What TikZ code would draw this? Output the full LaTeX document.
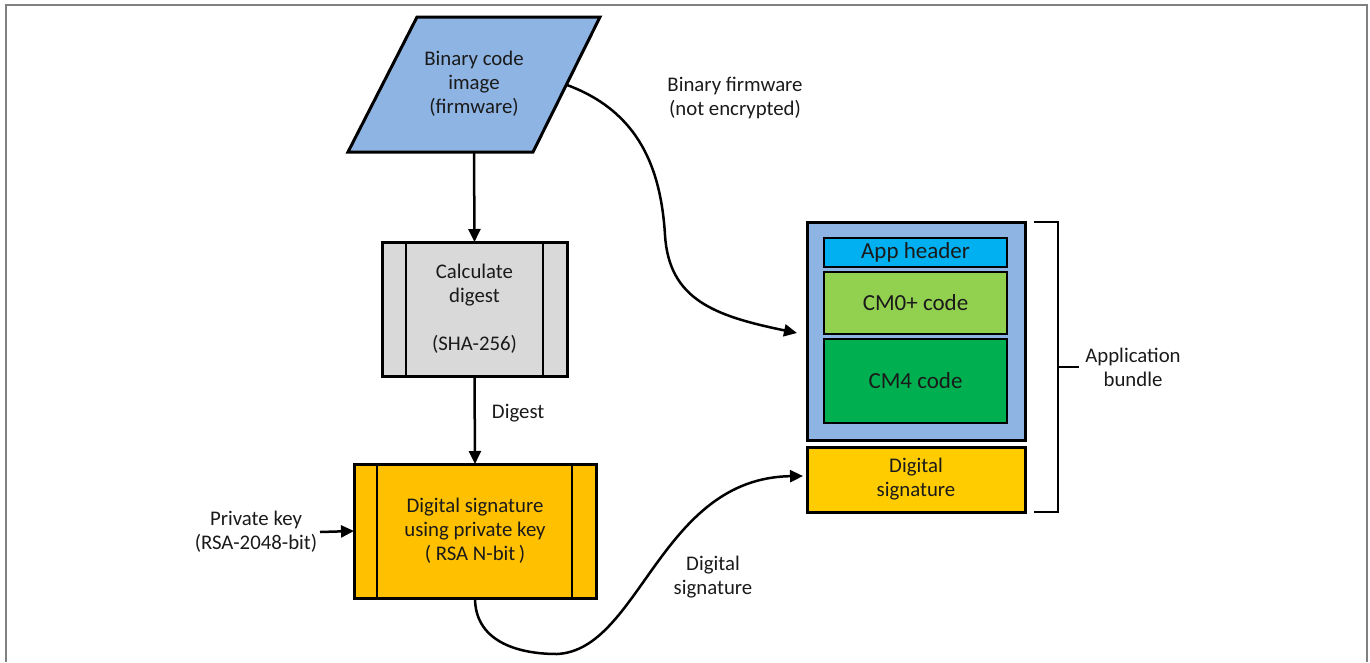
\documentclass[tikz,border=0pt]{standalone}
\usepackage{fontspec}
\setmainfont{Carlito}
\usetikzlibrary{arrows.meta}

\definecolor{imgblue}{HTML}{8EB4E3}
\definecolor{procgray}{HTML}{D9D9D9}
\definecolor{signorange}{HTML}{FFC000}
\definecolor{hdrcyan}{HTML}{00B0F0}
\definecolor{cmlight}{HTML}{92D050}
\definecolor{cmdark}{HTML}{00B050}
\definecolor{sigyellow}{HTML}{FFCC00}
\definecolor{framegray}{HTML}{808080}
\definecolor{ink}{HTML}{1A1A1A}

\tikzset{
  lbl/.style={font=\fontsize{20.8}{24}\selectfont, text=ink, align=center, inner sep=0pt},
  procbox/.style={draw=black, line width=3pt, inner sep=0pt, outer sep=0pt,
    font=\fontsize{20.8}{24}\selectfont, text=ink, align=center},
  part/.style={draw=black, line width=1.2pt, inner sep=0pt, outer sep=0pt,
    minimum width=183pt, font=\fontsize{23}{27}\selectfont, text=ink},
  flow/.style={line width=2.5pt, -{Triangle[length=13pt,width=12pt]}},
  wire/.style={line width=2.8pt}
}

\begin{document}
\begin{tikzpicture}[x=1pt,y=-1pt]
\useasboundingbox (0,0) rectangle (1370,662);

% page frame
\draw[framegray, line width=2pt] (6,662) -- (6,5) -- (1367,5) -- (1367,662);

% input image (parallelogram)
\coordinate (pTL) at (417,17);
\coordinate (pTR) at (600,17);
\coordinate (pBR) at (533,152);
\coordinate (pBL) at (348,152);
\draw[fill=imgblue, line width=3pt, line join=miter] (pTL) -- (pTR) -- (pBR) -- (pBL) -- cycle;
\node[lbl] (img) at (474,84) {Binary code\\image\\(firmware)};
\coordinate (imgbot) at (474,152);
\coordinate (imgright) at (567,85);

% hashing step
\node[procbox, fill=procgray, minimum width=185pt, minimum height=134pt] (calc) at (474.5,309) {};
\draw[line width=2.5pt] ([xshift=24pt]calc.north west) -- ([xshift=24pt]calc.south west);
\draw[line width=2.5pt] ([xshift=-24pt]calc.north east) -- ([xshift=-24pt]calc.south east);
\node[lbl] at (calc.center) {Calculate\\digest\\[24pt](SHA-256)};

% signing step
\node[procbox, fill=signorange, minimum width=242pt, minimum height=134pt] (sign) at (475,531) {};
\draw[line width=2.5pt] ([xshift=23pt]sign.north west) -- ([xshift=23pt]sign.south west);
\draw[line width=2.5pt] ([xshift=-24pt]sign.north east) -- ([xshift=-24pt]sign.south east);
\node[lbl] at (sign.center) {Digital signature\\using private key\\( RSA N-bit\,)};

% key input
\node[lbl] (key) at (256,532) {Private key\\(RSA-2048-bit)};
\coordinate (keyend) at (320,532);
\draw[flow] (keyend) -- (sign.west);

% application bundle
\node[procbox, fill=imgblue, minimum width=218pt, minimum height=218pt] (app) at (916,331) {};
\node[part, fill=hdrcyan, minimum height=29pt] (hdr) at (915.5,252.5) {App header};
\node[part, fill=cmlight, minimum height=62pt] (cm0) at (915.5,303) {CM0+ code};
\node[part, fill=cmdark, minimum height=84pt] (cm4) at (915.5,381) {CM4 code};
\node[procbox, fill=sigyellow, minimum width=218pt, minimum height=65pt] (dsig) at (916,479.5) {Digital\\signature};

% bracket around the bundle
\coordinate (brTop) at (1034,222);
\coordinate (brBot) at (1034,512);
\coordinate (brMid) at (1079,367);
\draw[wire, line join=miter] (brTop) -- (1058,222) -- (1058,512) -- (brBot);
\draw[wire] (1058,367) -- (brMid);
\node[lbl] (bundle) at (1133,367) {Application\\bundle};

% connectors
\draw[flow] (imgbot) -- (calc.north);
\draw[flow] (calc.south) -- node[lbl, right=16pt, pos=0.42] (dlabel) {Digest} (sign.north);

\draw[flow] (imgright) .. controls (640,112) and (661,170) .. (665,235)
  .. controls (669,300) and (715,316) .. (797,333);
\node[lbl] (fwlabel) at (735,98) {Binary firmware\\(not encrypted)};

\draw[flow] (sign.south) .. controls (475,640) and (515,654) .. (557,654)
  .. controls (640,650) and (660,478) .. (803,476);
\node[lbl] (siglabel) at (713,577) {Digital\\signature};

\end{tikzpicture}
\end{document}
